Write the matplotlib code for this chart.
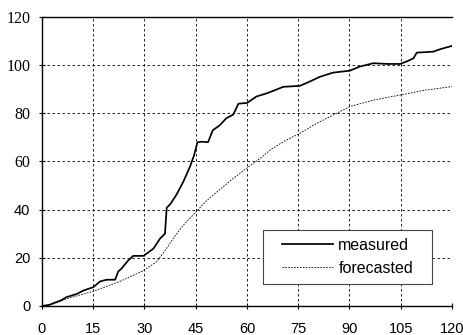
import matplotlib
matplotlib.use("Agg")
import matplotlib.pyplot as plt
from matplotlib.patches import Rectangle

# ----- Données -----
t_mesure = [0, 2, 3.8, 5.5, 7.2, 10.2, 12.1, 15, 17, 18.9, 21.4, 22.3, 23.3,
            25.3, 26.7, 29.7, 32.6, 34.5, 36, 36.5, 37.5, 39.4, 41.4, 43.3,
            44.5, 45.5, 47, 48.6, 50, 52, 54, 56, 57.5, 60, 62.8, 65.8, 68,
            70.6, 75.5, 78.4, 81.4, 85.2, 90.1, 93, 97, 101, 104.8, 106.7,
            108.7, 109.7, 114.5, 116.5, 120]
y_mesure = [0, 0.4, 1.4, 2.3, 3.7, 5, 6.4, 7.8, 10.2, 10.9, 10.9, 14.3, 15.6,
            19, 20.8, 20.8, 23.8, 27.9, 30, 40.8, 42.2, 46.3, 51.7, 57.8,
            62.5, 68, 68.2, 68, 73, 75, 78, 79.5, 84, 84.3, 87, 88.3, 89.5,
            91, 91.4, 93.2, 95.2, 96.9, 97.7, 99.4, 100.8, 100.5, 100.5, 101.5,
            102.8, 105.2, 105.6, 106.6, 108]

t_prevu = [0, 3.8, 7.2, 15, 22.8, 29.6, 33.6, 36, 38.4, 41, 44.9, 48, 52,
           56, 60, 64, 67, 71, 75.5, 80, 85.2, 90.1, 97, 104.8, 112, 120]
y_prevu = [0, 1, 3, 6.1, 10.2, 14.6, 18.4, 23, 28, 33, 38.8, 43.5, 48.3,
           53, 57.3, 61.5, 65, 68.5, 71.7, 75.5, 79.3, 82.8, 85.5, 87.6,
           89.6, 91.1]

x_ticks = list(range(0, 121, 15))
y_ticks = list(range(0, 121, 20))

plt.rcParams["font.family"] = ["Liberation Sans", "DejaVu Sans"]

fig = plt.figure(figsize=(4.63, 3.35), dpi=100)
ax = fig.add_axes([0.0907, 0.0866, 0.8855, 0.8627])

ax.plot(t_mesure, y_mesure, color="black", linewidth=1.25, label="measured")
ax.plot(t_prevu, y_prevu, color="black", linewidth=0.6,
        linestyle=(0, (2, 1.5)), label="forecasted")

ax.set_xlim(0, 120)
ax.set_ylim(0, 120)
ax.set_xticks(x_ticks)
ax.set_yticks(y_ticks)
ax.tick_params(axis="both", direction="inout", length=5, width=0.8,
               labelsize=10.5, colors="black")
ax.tick_params(axis="x", pad=9)
ax.tick_params(axis="y", pad=6)

ax.grid(True, color="black", linestyle=(0, (3, 3)), linewidth=0.6)
ax.spines["right"].set_visible(False)
for s in ("left", "bottom", "top"):
    ax.spines[s].set_linewidth(1.0)
    ax.spines[s].set_color("black")

# cadre de légende dessiné à part (marges inégales dans l'original)
ax.add_patch(Rectangle((0.539, 0.076), 0.412, 0.187, transform=ax.transAxes,
                       facecolor="white", edgecolor="#444444", linewidth=0.8,
                       zorder=5))
leg = ax.legend(loc="center", bbox_to_anchor=(0.745, 0.1695),
                fontsize=11.5, frameon=False,
                handlelength=3.2, labelspacing=0.5,
                handletextpad=0.35, borderaxespad=0)
leg.set_zorder(6)

# les graduations hautes de l'original sont en police à empattement
fig.canvas.draw()
for tick in ax.yaxis.get_major_ticks():
    if tick.get_loc() >= 60:
        tick.label1.set_fontfamily("Liberation Serif")
        tick.label1.set_fontsize(11.5)

fig.savefig("out.png", dpi=100)
